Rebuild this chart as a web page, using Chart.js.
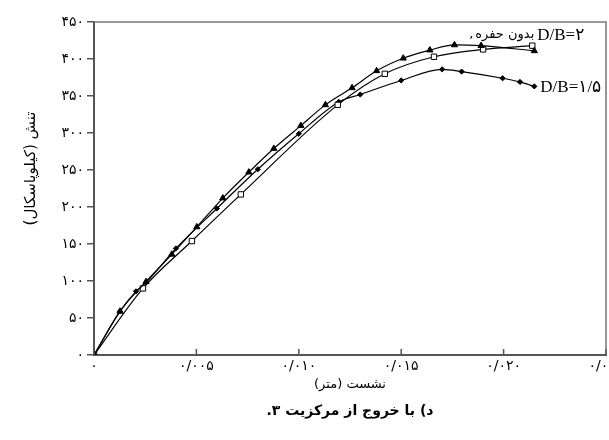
<!DOCTYPE html>
<html>
<head>
<meta charset="utf-8">
<script src="https://cdn.jsdelivr.net/npm/chart.js@4.4.1/dist/chart.umd.min.js"></script>
<style>
html, body { margin: 0; padding: 0; background: #fff; overflow: hidden; }
#wrap { width: 640px; height: 440px; }
</style>
</head>
<body>
<div id="wrap"><canvas id="chart" width="640" height="440"></canvas></div>
<script>
// settlement (m) / stress (kPa)
const noHoleX = [0, 0.00127, 0.00254, 0.0038, 0.00502, 0.00629, 0.00756, 0.00878, 0.0101, 0.0113, 0.0126, 0.0138, 0.0151, 0.0164, 0.0176, 0.0189, 0.0215]
const noHoleY = [0, 59, 99, 136, 173, 212, 247, 279, 310, 338, 361, 384, 401, 412, 419, 418, 411]

const db2X = [0, 0.00239, 0.00478, 0.00717, 0.0119, 0.0142, 0.0166, 0.019, 0.0214]
const db2Y = [0, 90, 154, 217, 338, 380, 403, 413, 418]

const db15X = [0, 0.00127, 0.00205, 0.00254, 0.004, 0.006, 0.008, 0.010, 0.01195, 0.013, 0.015, 0.017, 0.01795, 0.01995, 0.0208, 0.0215]
const db15Y = [0, 59, 86, 98, 144, 198, 251, 299, 342, 352, 371, 386, 383, 374, 369, 363]

const xTicks = [0, 0.005, 0.010, 0.015, 0.020, 0.025]
const yTicks = [0, 50, 100, 150, 200, 250, 300, 350, 400, 450]

const xTitle = 'نشست (متر)'
const yTitle = 'تنش (کیلوپاسکال)'
const caption = 'د) با خروج از مرکزیت ۳.'
const noHoleLabel = 'بدون حفره'

const faDigits = '۰۱۲۳۴۵۶۷۸۹'
const toFa = s => String(s).replace(/[0-9]/g, d => faDigits[d])

const persian = '"DejaVu Sans", sans-serif'

const toPoints = (xs, ys) => xs.map((x, i) => ({x: x, y: ys[i]}))

const dataset = (label, xs, ys, style, fill, radius) => ({
    label: label,
    data: toPoints(xs, ys),
    borderColor: '#000',
    borderWidth: 1.2,
    pointStyle: style,
    pointRadius: radius,
    pointBackgroundColor: fill,
    pointBorderColor: '#000',
    pointBorderWidth: 1,
    cubicInterpolationMode: 'monotone',
    fill: false
})

// inner x ticks, top/right frame, Persian titles and the curve labels
const extras = {
    id: 'extras',
    afterDraw(chart) {
        const {ctx, chartArea: area, scales: {x, y}} = chart
        const midX = (area.left + area.right) / 2
        ctx.save()
        ctx.strokeStyle = '#777'
        ctx.lineWidth = 1.5
        ctx.beginPath()
        ctx.moveTo(area.left, area.top)
        ctx.lineTo(area.right, area.top)
        ctx.lineTo(area.right, area.bottom)
        ctx.stroke()

        ctx.strokeStyle = '#555'
        x.ticks.forEach((t, i) => {
            const px = x.getPixelForTick(i)
            ctx.beginPath()
            ctx.moveTo(px, area.bottom)
            ctx.lineTo(px, area.bottom - 6)
            ctx.stroke()
        })

        ctx.fillStyle = '#000'
        ctx.direction = 'rtl'
        ctx.textAlign = 'center'
        ctx.textBaseline = 'middle'
        ctx.font = '13px ' + persian
        ctx.fillText(xTitle, midX, area.bottom + 30)
        ctx.font = 'bold 14px ' + persian
        ctx.fillText(caption, midX, area.bottom + 56)

        ctx.save()
        ctx.translate(31, area.top + (area.bottom - area.top) * 0.44)
        ctx.rotate(-Math.PI / 2)
        ctx.font = '15px ' + persian
        ctx.fillText(yTitle, 0, 0)
        ctx.restore()

        ctx.textBaseline = 'alphabetic'
        const ex = x.getPixelForValue(db2X[db2X.length - 1])
        const ey = y.getPixelForValue(db2Y[db2Y.length - 1])
        ctx.font = '13px ' + persian
        ctx.textAlign = 'right'
        ctx.fillText(noHoleLabel, ex + 2, ey - 8)
        const w = ctx.measureText(noHoleLabel).width
        ctx.fillText(',', ex - w, ey - 8)

        ctx.direction = 'ltr'
        ctx.textAlign = 'left'
        ctx.font = '17px "Liberation Serif", ' + persian
        ctx.fillText('D/B=' + toFa(2), ex + 5, ey - 6)

        const dx = x.getPixelForValue(db15X[db15X.length - 1])
        const dy = y.getPixelForValue(db15Y[db15Y.length - 1])
        ctx.fillText('D/B=' + toFa('1/5'), dx + 6, dy + 6)
        ctx.restore()
    }
}

new Chart(document.getElementById('chart'), {
    type: 'line',
    data: {
        datasets: [
            dataset('بدون حفره', noHoleX, noHoleY, 'triangle', '#000', 3.6),
            dataset('D/B=2', db2X, db2Y, 'rect', '#fff', 3.8),
            dataset('D/B=1.5', db15X, db15Y, 'rectRot', '#000', 2.6)
        ]
    },
    options: {
        responsive: false,
        animation: false,
        layout: {padding: {left: 14, right: 34, top: 22, bottom: 0}},
        plugins: {
            legend: {display: false},
            tooltip: {enabled: false}
        },
        scales: {
            x: {
                type: 'linear',
                min: 0,
                max: 0.025,
                afterFit: s => { s.height = 85 },
                afterBuildTicks: s => { s.ticks = xTicks.map(v => ({value: v})) },
                grid: {display: false, drawTicks: false},
                border: {display: true, color: '#555', width: 2},
                ticks: {
                    color: '#000',
                    padding: 3,
                    maxRotation: 0,
                    font: {family: persian, size: 14},
                    callback: v => v === 0 ? toFa(0) : toFa(v.toFixed(3).replace('.', '/'))
                }
            },
            y: {
                min: 0,
                max: 450,
                afterFit: s => { s.width = 80 },
                afterBuildTicks: s => { s.ticks = yTicks.map(v => ({value: v})) },
                grid: {drawOnChartArea: false, drawTicks: true, tickLength: 7, color: '#555', lineWidth: 1.5},
                border: {display: true, color: '#555', width: 2},
                ticks: {
                    color: '#000',
                    padding: 3,
                    font: {family: persian, size: 14},
                    callback: v => toFa(v)
                }
            }
        }
    },
    plugins: [extras]
})
</script>
</body>
</html>
